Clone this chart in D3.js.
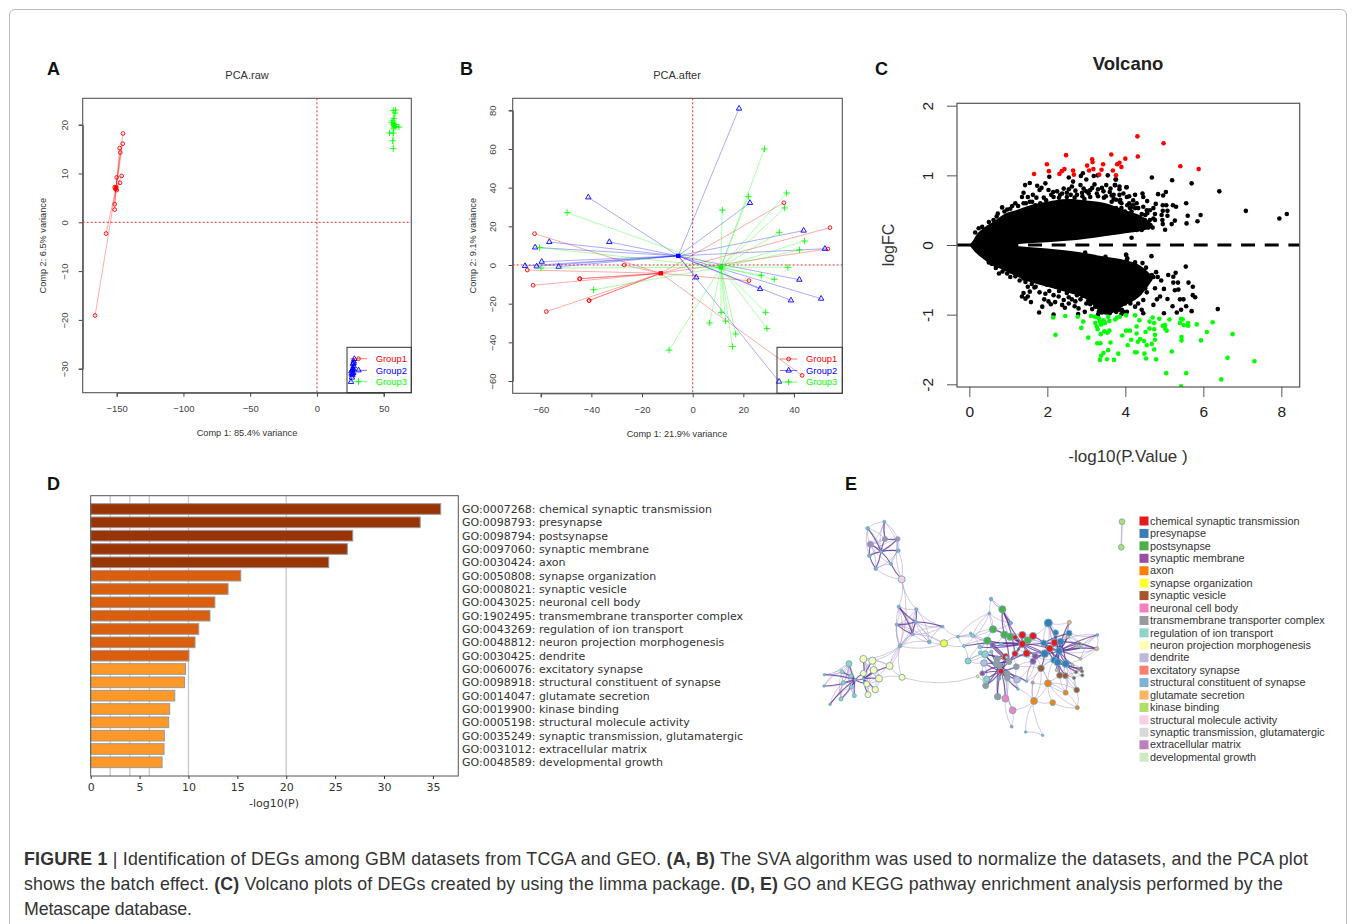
<!DOCTYPE html>
<html><head><meta charset="utf-8">
<script src="https://cdn.jsdelivr.net/npm/d3@7/dist/d3.min.js"></script>
<style>html,body{margin:0;padding:0;background:#fff;overflow:hidden}svg{display:block}text{font-family:"Liberation Sans",Arial,sans-serif}</style>
</head><body><svg id="c" width="1355" height="924"></svg>
<script>
// ---------- Panel A values ----------
const rawG1=[[-166.2,-19.1],[-158,-2.3],[-151.5,2.6],[-151.5,3.7],[-151.5,7.2],[-150.5,7.2],[-150,6.6],[-151,6.8],[-147.5,8.1],[-146.3,9.5],[-150,9.2],[-147.3,14.3],[-147.8,15.2],[-145.5,16.1],[-145.3,18.2]];
const rawG2=[[28,-28],[27.5,-28.5],[27,-29],[27.6,-29.5],[27,-30],[26.5,-30.3],[25.8,-30.5],[27.2,-30.8],[26.5,-31.3],[26.2,-31.8],[25.5,-32.7],[26.8,-31],[27.5,-28.8],[26,-31]];
const rawG3=[[57.2,15.1],[56.7,16.7],[57.2,18.3],[54.4,18.3],[61.4,19.5],[58.4,19.5],[57.2,19.3],[59.2,20],[56.7,20.8],[55.9,20.4],[57.7,21.3],[58.4,22.4],[57.2,22.9],[58.9,23],[57.7,20],[59.2,19.6]];
const rawCenters=[[-150.5,7],[27,-30],[57.5,20]];
// ---------- Panel B values ----------
const aftG1=[[-62.4,16.2],[-65.3,-2.6],[-63,-10.5],[-57.8,-24.1],[-40.9,-18.4],[-40.9,-18.4],[-44.6,-7.1],[-44.6,-7.1],[-27,0],[36,32.2],[54.2,19.3],[53.4,8.3],[22.2,-8.1],[43.2,-57.1]];
const aftG2=[[18.3,80.9],[-41.2,35],[22.6,32.1],[-56.6,11.9],[-32.9,11.9],[-62.2,9.1],[43.8,17.8],[52.2,8.4],[-59.6,1.7],[-66.2,-0.5],[-61.6,-0.7],[-52.9,-0.9],[1.4,-6.4],[26.6,-12.4],[42.1,-7.6],[38.8,-18.3],[50.7,-17.4],[34.1,-60.3]];
const aftG3=[[28.3,60],[22,35.5],[37.1,37.2],[11.7,28.4],[36.3,29.5],[-49.6,27.1],[34.2,16.9],[44.2,12.4],[42.2,7.8],[-60.4,9],[-59.9,-1.6],[37.6,-1.2],[27.1,-5.3],[32.2,-7.4],[-39.1,-12.8],[28.8,-24.5],[11.2,-24.5],[6.7,-30],[13,-29],[29.3,-32.8],[17,-35.7],[15.7,-42.2],[-9.3,-44]];
const aftCenters=[[-12.6,-4.3],[-5.7,4.7],[11.1,-1.2]];
const groupNames=["Group1","Group2","Group3"];
const groupColors=["#ff0000","#0000ff","#00ff00"];
// ---------- Panel C values ----------
const massX=[0,0.1,0.2,0.4,0.6,0.8,1.0,1.2,1.5,2,2.5,3,3.5,4,4.4,4.7];
const massUpOuter=[0,0.07,0.16,0.26,0.33,0.41,0.47,0.5,0.56,0.62,0.66,0.64,0.6,0.5,0.42,0.3];
const massUpInner=[0,0,0,0,0,0,0,0.01,0.024,0.04,0.06,0.09,0.13,0.17,0.2,0.25];
const massLowInner=[0,0,0,0,0,0,0,-0.015,-0.03,-0.05,-0.08,-0.12,-0.17,-0.22,-0.3,-0.45];
const massLowOuter=[0,-0.07,-0.13,-0.22,-0.3,-0.34,-0.4,-0.45,-0.52,-0.6,-0.68,-0.78,-1,-0.86,-0.72,-0.5];
const volcanoBlack=[[2.05,.98],[1.55,.89],[1.43,.86],[1.39,.75],[1.74,.85],[1.95,.885],[1.85,.82],[2.03,.79],[1.8,.79],[1.5,.69],[1.35,.69],[1.63,.72],[1.91,.68],[1.97,.64],[2.55,.97],[2.66,.91],[2.86,.99],[2.91,1.03],[3,.94],[3.19,.99],[3.29,1],[3.55,1],[3.76,.94],[3.74,.86],[3.51,.86],[4.03,.83],[3.21,.87],[2.42,.81],[2.63,.84],[2.25,.77],[2.85,.86],[2.93,.81],[2.89,.75],[2.55,.8],[1.18,.6],[1.05,.52],[.97,.51],[.84,.54],[.73,.45],[.62,.36],[.24,.24],[.15,.18],[1.69,.57],[1.39,.6],[1.61,.62],[1.82,.6],[2.16,.69],[2.33,.72],[2.5,.69],[2.76,.72],[3.06,.74],[3.27,.74],[3.44,.77],[3.7,.72],[3.87,.65],[4.04,.69],[4.17,.55],[2.1,.72],[2.3,.68],[2.5,.75],[2.7,.68],[2.9,.7],[3.1,.69],[3.3,.7],[3.5,.7],[3.7,.66],[3.9,.6],[4.1,.6],[3.6,.76],[3.3,.8],[2.95,.66],[2.6,.72],[3.1,.79],[3.45,.68],[3.95,.74],[3.62,.81],[3.15,.82],[2.72,.78],[2.38,.74],[2.15,.76],[1.72,.68],[1.55,.62],[1.45,.6],[1.25,.56],[4.2,.64],[3.85,.72],[3.4,.82],[3,.77],[1.1,.56],[.9,.48],[.7,.41],[.5,.33],[.33,.26],
[4.68,.97],[5.2,.93],[5.7,.885],[6.41,.77],[7.09,.49],[7.95,.38],[8.14,.445],[3.75,.94],[3.73,.86],[3.85,.84],[4.03,.83],[3.85,.8],[3.65,.71],[5.04,.76],[4.97,.71],[4.84,.73],[4.44,.74],[4.25,.72],[4.1,.7],[4.46,.69],[4.56,.63],[5.56,.6],[4.96,.57],[5.05,.57],[5.22,.57],[5.3,.55],[4.78,.59],[4.72,.53],[4.63,.5],[4.56,.455],[4.76,.445],[4.29,.6],[4.2,.57],[4.33,.53],[4.12,.53],[4.05,.57],[3.86,.62],[3.76,.65],[3.65,.62],[3.9,.53],[3.76,.53],[3.67,.49],[5.08,.49],[4.96,.49],[5.08,.42],[4.93,.43],[5.6,.42],[5.93,.43],[5.85,.34],[5.57,.31],[5.27,.35],[5.19,.3],[4.95,.36],[4.96,.3],[5.02,.22],[4.16,.105],[4.46,.55],[4.55,.5],[4.42,.445],[4.5,.36],[4.63,.36],[4.72,.38],[4.7,.25],[4.59,.25],[4.42,.215],[4.29,.215],[4.16,.24],[4.03,.215],[3.86,.215],[3.74,.24],[3.95,.38],[4.12,.41],[4.25,.36],[4.33,.29],[3.82,.36],[3.69,.41],[4.76,.36],[3.99,.48],[4.16,.48],[4.25,.53],[4.42,.36],[4.51,.43],[4.03,.31],[3.86,.455],[3.78,.43],
[.76,-.41],[.97,-.41],[.57,-.27],[.5,-.25],[1.18,-.45],[1.39,-.48],[1.29,-.51],[1.44,-.53],[1.73,-.41],[1.35,-.74],[1.44,-.77],[1.5,-.74],[1.58,-.82],[1.39,-.69],[1.55,-.67],[1.67,-.61],[1.8,-.68],[1.79,-.97],[1.87,-.885],[1.92,-.78],[2.03,-.81],[2.16,-1],[2.16,-.72],[2.29,-.74],[2.09,-.85],[2.38,-.86],[2.42,-.79],[2.63,-.78],[2.72,-.81],[2.8,-.91],[2.96,-.96],[2.79,-.99],[3,-.84],[2.76,-.72],[2.5,-.69],[2.97,-.65],[1.99,-.57],[1.82,-.53],[2.25,-.6],[2.59,-.6],[2.89,-.55],[3.19,-.74],[3.23,-.885],[3.32,-.96],[3.44,-.91],[3.49,-.74],[3.77,-.96],[3.91,-.93],[4.04,-.96],[3.7,-.81],[3.96,-.74],[4.13,-.84],[4.21,-.6],[4.13,-.5],[4.02,-.14],[4.04,-.21],[3.76,-.24],[3.49,-.17],[3.27,-.22],[2.97,-.11],[4,-.41],[3.7,-.55],[4.04,-.29],[4.17,-.33],[4.26,-.41],[3.91,-.33],[3.1,-.85],[3.15,-.92],[3.05,-.8],[2.85,-.78],[2.55,-.75],[2.3,-.66],[2.05,-.66],[1.7,-.6],[2.7,-.88],[2.45,-.9],[2.2,-.82],[1.95,-.7],[1.6,-.56],[1.5,-.6],[2.55,-.84],[2.9,-.73],[3.3,-1.0],[3.6,-.98],[3.9,-.99],[3.4,-.97],[1.05,-.46],[.85,-.38],[.68,-.33],
[4.67,-.16],[4.02,-.14],[4.05,-.19],[5.55,-.31],[4.44,-.26],[4.53,-.325],[4.25,-.25],[4.16,-.29],[3.75,-.23],[5.1,-.43],[5.29,-.4],[5.23,-.455],[4.68,-.43],[4.79,-.39],[4.72,-.46],[4.83,-.46],[4.92,-.51],[5.23,-.54],[5.35,-.54],[5.62,-.54],[5.73,-.6],[5.27,-.65],[5.36,-.64],[4.99,-.63],[4.76,-.62],[4.51,-.62],[4.55,-.68],[5.08,-.775],[5.73,-.72],[5.79,-.75],[5.4,-.78],[5.49,-.78],[4.89,-.74],[4.81,-.78],[4.72,-.86],[5.21,-.88],[5.56,-.88],[5.43,-.93],[5.32,-.97],[5.7,-.95],[4.99,-.98],[6.37,-.92],[4.42,-.93],[4.46,-.98],[3.95,-.96],[3.86,-.93],[3.76,-.95],[4.25,-.885],[4.33,-.84],[4.46,-.79],[4.12,-.81],[3.99,-.84],[4.12,-.65],[4.25,-.57],[4.33,-.5],[4.42,-.5],[4.16,-.455],[3.99,-.335],[3.86,-.36],[4.25,-.69],[4.37,-.69],[4.03,-.55],[3.86,-.55],[3.95,-.67],[3.73,-.69],[3.73,-.455],[3.82,-.79]];
const volcanoRed=[[1.66,1.02],[1.99,1.16],[2.04,1.06],[2.31,1.02],[2.37,1.06],[2.44,1.09],[2.48,1.29],[2.66,1.07],[2.68,1.01],[3.02,1.14],[3.07,1.07],[3.15,1.23],[3.16,1.19],[3.18,1.09],[3.33,1.01],[3.39,1.08],[3.43,1.16],[3.64,1.3],[3.68,1.07],[3.76,1],[3.79,1.16],[3.85,1.18],[3.9,1.12],[4,1.24],[4.31,1.56],[4.32,1.27],[4.98,1.46],[5.41,1.13],[5.88,1.09]];
const volcanoGreen=[[2.15,-1.04],[2.21,-1.29],[2.46,-1.02],[2.78,-1.03],[2.92,-1.1],[2.87,-1.19],[3.05,-1.33],[3.12,-1.02],[3.22,-1.03],[3.23,-1.12],[3.27,-1.17],[3.32,-1.05],[3.35,-1.1],[3.38,-1.14],[3.29,-1.21],[3.37,-1.28],[3.44,-1.08],[3.48,-1.12],[3.56,-1.03],[3.59,-1.09],[3.46,-1.24],[3.54,-1.26],[3.59,-1.23],[3.28,-1.41],[3.36,-1.41],[3.62,-1.4],[3.74,-1.07],[3.79,-1.04],[3.86,-1.03],[4.02,-1.01],[4.25,-1.01],[4.36,-1.08],[4.62,-1.1],[4.7,-1.04],[4.87,-1.06],[5.13,-1.07],[5.43,-1.06],[5.47,-1.07],[5.4,-1.12],[5.5,-1.15],[5.61,-1.12],[5.61,-1.16],[5.83,-1.14],[6.24,-1.11],[6.09,-1.25],[6.75,-1.28],[5.94,-1.37],[6.62,-1.62],[7.31,-1.67],[6.46,-1.93],[5.05,-1.84],[5.56,-1.84],[5.43,-2.03],[5.19,-1.53],[4.79,-1.64],[4.53,-1.63],[4.49,-1.56],[4.29,-1.54],[4.25,-1.54],[4.74,-1.5],[3.82,-1.56],[3.71,-1.65],[3.53,-1.64],[3.35,-1.65],[3.38,-1.59],[3.44,-1.55],[3.56,-1.51],[3.92,-1.3],[4.02,-1.23],[4.12,-1.23],[4.06,-1.44],[4.15,-1.36],[4.29,-1.17],[4.29,-1.27],[4.32,-1.39],[4.38,-1.35],[4.48,-1.38],[4.55,-1.44],[4.52,-1.25],[4.62,-1.2],[4.74,-1.12],[4.74,-1.21],[4.76,-1.29],[4.76,-1.36],[4.68,-1.42],[4.96,-1.16],[5.02,-1.15],[5.06,-1.23],[5.44,-1.32],[5.44,-1.37],[5.02,-1.2]];
// ---------- Panel D values ----------
const goLabels=["GO:0007268: chemical synaptic transmission","GO:0098793: presynapse","GO:0098794: postsynapse","GO:0097060: synaptic membrane","GO:0030424: axon","GO:0050808: synapse organization","GO:0008021: synaptic vesicle","GO:0043025: neuronal cell body","GO:1902495: transmembrane transporter complex","GO:0043269: regulation of ion transport","GO:0048812: neuron projection morphogenesis","GO:0030425: dendrite","GO:0060076: excitatory synapse","GO:0098918: structural constituent of synapse","GO:0014047: glutamate secretion","GO:0019900: kinase binding","GO:0005198: structural molecule activity","GO:0035249: synaptic transmission, glutamatergic","GO:0031012: extracellular matrix","GO:0048589: developmental growth"];
const goValues=[35.8,33.7,26.8,26.25,24.35,15.35,14.05,12.7,12.2,11.05,10.67,10.05,9.7,9.6,8.6,8.08,7.98,7.53,7.5,7.3];
const goTiers=[0,0,0,0,0,1,1,1,1,1,1,1,2,2,2,2,2,2,2,2];
const goTierColors=["#993404","#d95f0e","#fe9929"];
const goGrid=[2,4,6,10,20];
// ---------- Panel E values ----------
const clusterNames=["chemical synaptic transmission","presynapse","postsynapse","synaptic membrane","axon","synapse organization","synaptic vesicle","neuronal cell body","transmembrane transporter complex","regulation of ion transport","neuron projection morphogenesis","dendrite","excitatory synapse","structural constituent of synapse","glutamate secretion","kinase binding","structural molecule activity","synaptic transmission, glutamatergic","extracellular matrix","developmental growth"];
const clusterColors=["#e41a1c","#377eb8","#4daf4a","#984ea3","#ff7f00","#ffff33","#a65628","#f781bf","#999999","#8dd3c7","#ffffb3","#bebada","#fb8072","#80b1d3","#fdb462","#b3de69","#fccde5","#d9d9d9","#bc80bd","#ccebc5"];
// node: layout x, layout y, size, cluster
const netNodes=[[193,65,1.5,13],[143,85,1.8,13],[151,133,3,18],[195,117,2.5,18],[233,117,2.3,18],[235,152,1.8,13],[148,167,1.8,13],[167,206,1.8,13],[213,192,1.5,13],[183,155,1.5,13],
[245,238,3.5,16],[236,320,1.5,13],[289,328,1.7,13],[230,374,1.5,13],[287,366,1.5,13],[278,403,1.5,13],[240,438,1.8,13],[368,380,1.4,13],[328,426,1.8,13],[372,430,3.6,5],
[130,477,3.6,10],[157,482,3.6,10],[209,498,3.5,10],[161,510,3.5,10],[130,520,3,10],[177,536,3.5,10],[140,552,3,10],[166,569,3.2,10],[144,584,3,10],[246,532,3,10],
[87,491,3,9],[66,515,2,9],[93,528,2,9],[70,548,2,9],[94,561,2,9],[103,587,2,9],[63,597,2,9],[13,524,1.2,13],[12,558,1.2,13],[30,613,1.2,13],[105,540,1.2,13],[130,537,1.2,13],
[513,297,1.8,13],[547,328,3.6,2],[508,340,1.4,13],[573,369,1.6,13],[519,388,3.6,2],[502,422,3.6,2],[553,404,3.6,2],[571,410,3.6,2],[623,421,3.6,2],
[607,405,3.6,0],[639,408,3.6,0],[607,432,3.6,0],[620,460,3.6,0],[585,461,3,0],[557,471,3.5,0],[585,412,2.5,0],[543,514,3,0],[704,428,3.6,0],[689,446,3.6,0],
[685,369,4,1],[707,398,2.8,1],[747,400,3,1],[671,429,3,1],[722,425,3.5,1],[717,453,3.5,1],[674,461,3.8,1],[702,480,3.2,1],[713,487,3.6,1],[737,491,3.6,1],
[748,367,2,14],[743,411,1.6,14],[781,476,1.4,14],[758,495,1.4,14],[830,446,2,14],[769,438,1.4,14],[832,405,1.4,13],[783,442,1.4,13],
[663,505,3.3,6],[719,526,3,6],[736,527,2.8,6],[778,431,1.6,6],[770,570,2.8,6],[768,516,1.8,6],[783,505,1.6,6],[786,514,1.6,6],[787,526,1.6,6],[762,534,1.6,6],
[684,550,3.4,4],[737,578,2.5,4],[642,603,3.4,4],[698,608,2.8,4],[772,623,2,4],[638,548,1.6,12],
[556,596,3.4,7],[578,631,3.4,7],[575,680,1.4,18],[617,696,1.2,13],[668,706,1.2,13],
[646,469,3,3],[639,484,3,3],[518,435,2.5,3],[487,520,2.5,3],
[495,463,3.5,9],[444,483,3,9],[500,537,3,9],[492,489,3.3,11],[591,539,3.3,11],[497,557,3,8],[533,590,3.2,8],[532,477,3,8],[528,491,3,8],[538,497,2.8,8],[567,485,2.8,8],[589,500,2.8,8],[562,521,2.8,8],[562,534,2.8,8],[537,535,2,8],[473,529,1.3,5],
[414,410,1.4,13],[452,400,1.2,13],[458,407,1.8,9],[432,438,1.5,9],[479,441,1.8,9],[481,458,1.8,9],[543,432,1.8,13],[514,455,1.6,9],[620,544,1.2,13],[594,567,1.2,13],[710,510,1.5,14],[560,472,1.5,9]];
// hub node -> linked nodes
const strongLinks=[[9,[3,2,5,6,7,4,8,1]],[8,[10]],[3,[0,4]],[6,[7,2]],[14,[11,12,13,15,17]],[15,[11,13]],[40,[30,31,32,33,34,35,36,37,38,39,24,26]],[41,[20,25,23,21,24,40,26,27,28,22]],[58,[56,111,112,113,114,115,116,117,118,103,104,106,107,108,109,110,95,129,128,131,127,125]],[114,[53,54,48,47,104,107,112,55]],[53,[43,46,47,48,49,50,51,52,54,55,57,64,67,100,102,126,124,123,60]],[66,[59,60,61,62,63,64,65,67,68,69,70,75,76,77,78,71,72,73,74,82,130]],[67,[53,54,100,101,79,59]],[64,[59,60,68,69,70,63,52]],[65,[68,69,70,67,75]],[43,[45,55,48]],[56,[102,114,125,47]],[113,[110,109,103,108]],[69,[80,81,84,85,86]]];
const weakLinks=[[10,[11,12,16,5,4]],[16,[11,13,15,18,19,22,29,26,14]],[18,[17,19,14]],[17,[120,15,13]],[19,[120,123]],[29,[119,22,25]],[22,[23,21,16]],[120,[121,122,123,44]],[44,[123,122,46,45]],[42,[43,45]],[89,[91,92,83,93,90,79,94]],[91,[92,96,98,94,129]],[98,[99]],[94,[99]],[83,[93,81]],[97,[96,95]],[93,[92,90]],[90,[70,80,81,89]],[61,[62,64,60,65,59,66,67,71]],[71,[63,65,72]],[77,[63,65,75,73,66,78]],[75,[73,66,78,70,64]],[79,[101,58,68]],[105,[123,127,104]],[128,[100,79]],[95,[110,96]],[50,[64,59,52]],[52,[61,64]],[80,[88,84,69]],[84,[85,86,87]],[88,[87,83]],[74,[84,85]],[122,[124,47,102]],
[0,[1,2,3,5,9,4]],[1,[3,6,9,2]],[2,[3,4,5,7,8]],[4,[5,6,8]],[5,[6,7,8]],[7,[8,10]],[11,[12,13,14,15,16]],[12,[13,15,16,17,18]],[13,[14,15,16,18]],[14,[16,17,18,19]],[15,[16,17,18,19]],[30,[31,32,33,34,35,36,37,38,39]],[20,[21,22,23,24,25,26,16]],[21,[23,24,25,16]],[31,[33,34,36,37,38]],[33,[35,36,38,39]],[34,[35,36,39]],[23,[25,26,27,28]],[26,[27,28,25]],[25,[27]],[46,[45,42,122,120,47,48]],[43,[42,49]],[63,[66,67,75]],[47,[122,123,124,125,104,105]],[104,[105,107,127,125]],[107,[105,103,106]],[48,[49,51,54,102]],[51,[52,54,55,59]],[55,[100,101,115]],[100,[79,68,128]],[101,[128,108,115]],[108,[128,129,115]],[116,[96,129,95]],[117,[95,96,129]],[109,[119,103,106]],[70,[80,81,84,88,83]],[81,[83,88,89]],[72,[82,78]],[68,[79,80,89]],[79,[89,94,91]]];
const keyNodes=[[1122,521.7],[1121.3,547.3]];
const captionLines=[[["FIGURE 1",1],[" | Identification of DEGs among GBM datasets from TCGA and GEO. ",0],["(A, B)",1],[" The SVA algorithm was used to normalize the datasets, and the PCA plot",0]],
[["shows the batch effect. ",0],["(C)",1],[" Volcano plots of DEGs created by using the limma package. ",0],["(D, E)",1],[" GO and KEGG pathway enrichment analysis performed by the",0]],
[["Metascape database.",0]]];
const captionWidths=[1284,1259,168];
const panelLetters=[["A",47,75],["B",460,75],["C",875,75],["D",47,490],["E",845,490]];

const svg=d3.select("#c");
const ink="#444";
svg.append("path").attr("d","M9.5,924V15Q9.5,9.5 15,9.5H1340Q1346.5,9.5 1346.5,15V924").attr("fill","none").attr("stroke","#bdbdbd");
svg.selectAll(".pl").data(panelLetters).join("text").attr("x",d=>d[1]).attr("y",d=>d[2]).attr("font-size",18).attr("font-weight","bold").attr("fill","#111").text(d=>d[0]);

function styleAxis(g,color,size,family){g.select(".domain").attr("stroke",color);g.selectAll(".tick line").attr("stroke",color);g.selectAll("text").attr("fill",color).attr("font-size",size).style("font-family",family||null);}
const minus=d=>String(d).replace("-","\u2212");

function pca(o){
  const g=svg.append("g");
  const x=d3.scaleLinear().domain(o.xd).range(o.xr), y=d3.scaleLinear().domain(o.yd).range(o.yr);
  const [L,R]=o.box.slice(0,2), [T,B]=o.box.slice(2);
  const ax=g.append("g").attr("transform",`translate(0,${B})`).call(d3.axisBottom(x).tickValues(o.xt).tickSize(4).tickPadding(9).tickFormat(minus));
  styleAxis(ax,ink,9.5);
  const ay=g.append("g").attr("transform",`translate(${L},0)`).call(d3.axisLeft(y).tickValues(o.yt).tickSize(4).tickFormat(minus));
  styleAxis(ay,ink,9.5);
  ay.selectAll("text").attr("text-anchor","middle").attr("dy",0).attr("x",0).attr("y",0).attr("transform",`translate(${-o.ytickOff},0) rotate(-90)`);
  g.append("rect").attr("x",L).attr("y",T).attr("width",R-L).attr("height",B-T).attr("fill","none").attr("stroke","#555").attr("stroke-width",1.1);
  g.append("line").attr("x1",x(0)).attr("x2",x(0)).attr("y1",T).attr("y2",B).attr("stroke","#d33").attr("stroke-dasharray","2,2");
  g.append("line").attr("x1",L).attr("x2",R).attr("y1",y(0)).attr("y2",y(0)).attr("stroke","#d33").attr("stroke-dasharray","2,2");
  const sym=[d3.symbol().type(d3.symbolCircle).size(11)(),d3.symbol().type(d3.symbolTriangle).size(13)(),"M-3.2,0H3.2M0,-3.2V3.2"];
  o.groups.forEach((pts,i)=>{
    const c=o.centers[i],col=groupColors[i];
    g.selectAll(null).data(pts).join("line").attr("x1",x(c[0])).attr("y1",y(c[1])).attr("x2",d=>x(d[0])).attr("y2",d=>y(d[1])).attr("stroke",col).attr("stroke-opacity",.33);
    g.selectAll(null).data(pts).join("path").attr("d",sym[i]).attr("transform",d=>`translate(${x(d[0])},${y(d[1])})`).attr("fill","none").attr("stroke",col).attr("stroke-width",.9);
  });
  o.centers.forEach((c,i)=>{g.append("rect").attr("x",x(c[0])-2.2).attr("y",y(c[1])-2.2).attr("width",4.4).attr("height",4.4).attr("fill",groupColors[i]);});
  const lg=o.legend;
  g.append("rect").attr("x",lg.x).attr("y",lg.y).attr("width",R-lg.x).attr("height",B-lg.y).attr("fill","none").attr("stroke","#333");
  groupNames.forEach((n,i)=>{const yy=lg.ys[i];
    g.append("line").attr("x1",lg.l0).attr("x2",lg.l1).attr("y1",yy).attr("y2",yy).attr("stroke",groupColors[i]).attr("stroke-opacity",.55);
    g.append("path").attr("d",sym[i]).attr("transform",`translate(${(lg.l0+lg.l1)/2},${yy})`).attr("fill","none").attr("stroke",groupColors[i]).attr("stroke-width",.9);
    g.append("text").attr("x",lg.tx).attr("y",yy+3.3).attr("font-size",9.4).attr("fill",groupColors[i]).text(n);
  });
  g.append("text").attr("x",o.titleX).attr("y",79).attr("text-anchor","middle").attr("font-size",11).attr("fill","#333").text(o.title);
  g.append("text").attr("x",o.titleX).attr("y",o.xlabY).attr("text-anchor","middle").attr("font-size",9.2).attr("fill","#333").text(o.xlab);
  g.append("text").attr("transform",`translate(${o.ylabX},245.7) rotate(-90)`).attr("text-anchor","middle").attr("font-size",9.2).attr("fill","#333").text(o.ylab);
}
pca({xd:[-150,50],xr:[116.7,383.7],yd:[-30,20],yr:[368.7,124.7],box:[82.7,411.3,98.3,392.7],xt:[-150,-100,-50,0,50],yt:[-30,-20,-10,0,10,20],ytickOff:15,
  groups:[rawG1,rawG2,rawG3],centers:rawCenters,legend:{x:347,y:347.3,l0:350,l1:367,tx:375.7,ys:[358.7,370.3,381.7]},title:"PCA.raw",titleX:247,xlab:"Comp 1: 85.4% variance",xlabY:436,ylab:"Comp 2: 6.5% variance",ylabX:46});
pca({xd:[-60,40],xr:[540.7,794],yd:[-60,80],yr:[381,110.3],box:[512.7,842.3,98.3,393.3],xt:[-60,-40,-20,0,20,40],yt:[-60,-40,-20,0,20,40,60,80],ytickOff:17,
  groups:[aftG1,aftG2,aftG3],centers:aftCenters,legend:{x:777,y:347.3,l0:780,l1:797.3,tx:806,ys:[359,370.5,382]},title:"PCA.after",titleX:677,xlab:"Comp 1: 21.9% variance",xlabY:437,ylab:"Comp 2: 9.1% variance",ylabX:476});

// ---------- Volcano ----------
(function(){
  const g=svg.append("g");
  const x=d3.scaleLinear().domain([0,8]).range([969.33,1281.33]), y=d3.scaleLinear().domain([-2,2]).range([384.3,105.7]);
  const L=957,R=1299.7,T=103.3,B=387;
  svg.append("clipPath").attr("id","vc").append("rect").attr("x",L).attr("y",T).attr("width",R-L).attr("height",B-T);
  const plot=g.append("g").attr("clip-path","url(#vc)");
  const band=(hi,lo)=>d3.area().x(d=>x(massX[d])).y1(d=>y(hi[d])).y0(d=>y(lo[d])).curve(d3.curveMonotoneX)(d3.range(massX.length));
  plot.append("path").attr("d",band(massUpOuter,massUpInner)).attr("fill","#000");
  plot.append("path").attr("d",band(massLowInner,massLowOuter)).attr("fill","#000");
  plot.selectAll(null).data(volcanoBlack).join("circle").attr("cx",d=>x(d[0])).attr("cy",d=>y(d[1])).attr("r",2.3).attr("fill","#000");
  plot.selectAll(null).data(volcanoRed).join("circle").attr("cx",d=>x(d[0])).attr("cy",d=>y(d[1])).attr("r",2.3).attr("fill","#ff0000");
  plot.selectAll(null).data(volcanoGreen).join("circle").attr("cx",d=>x(d[0])).attr("cy",d=>y(d[1])).attr("r",2.3).attr("fill","#00ff00");
  plot.append("line").attr("x1",L).attr("x2",R).attr("y1",y(0)).attr("y2",y(0)).attr("stroke","#000").attr("stroke-width",3).attr("stroke-dasharray","14,9.67");
  g.append("rect").attr("x",L).attr("y",T).attr("width",R-L).attr("height",B-T).attr("fill","none").attr("stroke","#555").attr("stroke-width",1.2);
  const ax=g.append("g").attr("transform",`translate(0,${B})`).call(d3.axisBottom(x).tickValues([0,2,4,6,8]).tickSize(10).tickPadding(9).tickFormat(d3.format("d")));
  styleAxis(ax,"#222",15.5); ax.select(".domain").remove();
  ax.selectAll(".tick line").attr("stroke","#555");
  const ay=g.append("g").attr("transform",`translate(${L},0)`).call(d3.axisLeft(y).tickValues([-2,-1,0,1,2]).tickSize(10).tickFormat(d=>String(d)));
  styleAxis(ay,"#222",15.5); ay.select(".domain").remove();
  ay.selectAll(".tick line").attr("stroke","#555");
  ay.selectAll("text").attr("text-anchor","middle").attr("dy",0).attr("x",0).attr("y",0).attr("transform",`translate(-24,0) rotate(-90)`);
  g.append("text").attr("x",1128).attr("y",70).attr("text-anchor","middle").attr("font-size",18.5).attr("font-weight","bold").attr("fill","#222").text("Volcano");
  g.append("text").attr("x",1128).attr("y",462).attr("text-anchor","middle").attr("font-size",17).attr("fill","#333").text("-log10(P.Value )");
  g.append("text").attr("transform","translate(894,245) rotate(-90)").attr("text-anchor","middle").attr("font-size",16).attr("fill","#333").text("logFC");
})();

// ---------- Bars ----------
(function(){
  const g=svg.append("g"), F='"DejaVu Sans",sans-serif';
  const L=90.7,R=458.3,T=495.7,B=776;
  const x=d3.scaleLinear().domain([0,35]).range([L,L+342.2]);
  const y=d3.scaleBand().domain(goLabels).range([502.33,769]).paddingInner(.2).paddingOuter(.1);
  g.selectAll(null).data(goGrid).join("line").attr("x1",d=>x(d)).attr("x2",d=>x(d)).attr("y1",T).attr("y2",B).attr("stroke","#c8c8c8").attr("stroke-width",1.3);
  g.selectAll(null).data(goLabels).join("rect").attr("x",L).attr("y",d=>y(d)).attr("height",y.bandwidth()).attr("width",(d,i)=>x(goValues[i])-L).attr("fill",(d,i)=>goTierColors[goTiers[i]]).attr("stroke","#999").attr("stroke-width",1);
  g.append("rect").attr("x",L).attr("y",T).attr("width",R-L).attr("height",B-T).attr("fill","none").attr("stroke","#555").attr("stroke-width",1);
  const ax=g.append("g").attr("transform",`translate(0,${B})`).call(d3.axisBottom(x).tickValues([0,5,10,15,20,25,30,35]).tickSize(3).tickPadding(4));
  styleAxis(ax,"#333",11,F); ax.select(".domain").remove();
  g.selectAll(null).data(goLabels).join("text").attr("x",462).attr("y",d=>y(d)+y.bandwidth()/2+4).attr("font-size",11).attr("fill","#333").style("font-family",F).text(d=>d);
  g.append("text").attr("x",274).attr("y",807).attr("text-anchor","middle").attr("font-size",11).attr("fill","#333").style("font-family",F).text("-log10(P)");
})();

// ---------- Network ----------
(function(){
  const g=svg.append("g");
  const x=d3.scaleLinear().domain([0,870]).range([820,1110]), y=d3.scaleLinear().domain([0,780]).range([500,760]);
  const curve=(a,b,k)=>{const x0=x(a[0]),y0=y(a[1]),x1=x(b[0]),y1=y(b[1]);const mx=(x0+x1)/2-(y1-y0)*k,my=(y0+y1)/2+(x1-x0)*k;return `M${x0},${y0}Q${mx},${my} ${x1},${y1}`;};
  weakLinks.forEach(([h,ts],i)=>ts.forEach((t,j)=>g.append("path").attr("d",curve(netNodes[h],netNodes[t],(i+j)%2?.16:-.16)).attr("fill","none").attr("stroke","#9f8ac4").attr("stroke-opacity",.45).attr("stroke-width",1)));
  strongLinks.forEach(([h,ts],i)=>ts.forEach((t,j)=>g.append("path").attr("d",curve(netNodes[h],netNodes[t],(i+j)%2?.08:-.08)).attr("fill","none").attr("stroke","#5a2d96").attr("stroke-opacity",.75).attr("stroke-width",1.2)));
  g.selectAll(null).data(netNodes).join("circle").attr("cx",d=>x(d[0])).attr("cy",d=>y(d[1])).attr("r",d=>d[2]).attr("fill",d=>clusterColors[d[3]]).attr("stroke","#6fa9bd").attr("stroke-width",.9);
  g.append("line").attr("x1",keyNodes[0][0]).attr("y1",keyNodes[0][1]).attr("x2",keyNodes[1][0]).attr("y2",keyNodes[1][1]).attr("stroke","#c4b8de").attr("stroke-width",1.4);
  g.selectAll(null).data(keyNodes).join("circle").attr("cx",d=>d[0]).attr("cy",d=>d[1]).attr("r",2.9).attr("fill","#b3de69").attr("stroke","#6fa9bd").attr("stroke-width",.8);
  const ly=d3.scalePoint().domain(clusterNames).range([521,757.2]);
  g.selectAll(null).data(clusterNames).join("rect").attr("x",1139.5).attr("y",d=>ly(d)-4.5).attr("width",9).attr("height",9).attr("fill",(d,i)=>clusterColors[i]);
  g.selectAll(null).data(clusterNames).join("text").attr("x",1150).attr("y",d=>ly(d)+3.7).attr("font-size",10.85).attr("fill","#333").text(d=>d);
})();

// ---------- Caption ----------
captionLines.forEach((line,i)=>{
  const t=svg.append("text").attr("x",24).attr("y",865+i*25.2).attr("font-size",17.8).attr("fill","#333").attr("textLength",captionWidths[i]).attr("lengthAdjust","spacing");
  line.forEach(([s,b])=>t.append("tspan").attr("font-weight",b?"bold":"normal").text(s));
});
</script></body></html>
